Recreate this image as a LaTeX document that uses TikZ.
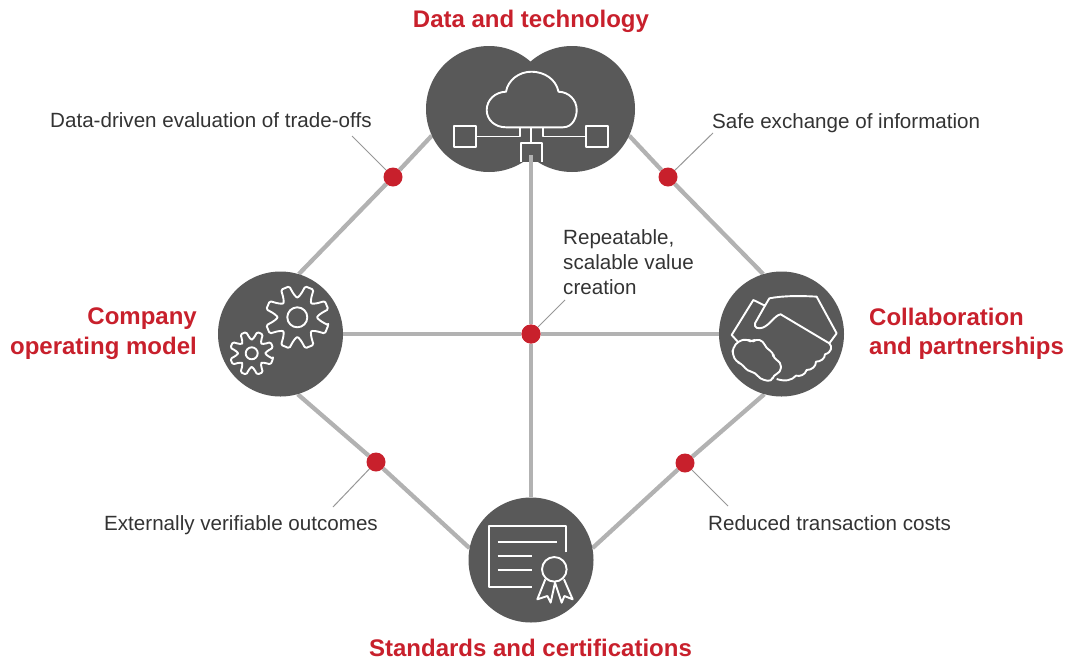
\documentclass[tikz,border=0pt]{standalone}
\usepackage{fontspec}
\setmainfont{Liberation Sans}
\usetikzlibrary{backgrounds}
\definecolor{hub}{RGB}{89,89,89}
\definecolor{spokec}{RGB}{178,178,178}
\definecolor{redc}{RGB}{200,32,44}
\definecolor{txt}{RGB}{51,51,51}
\tikzset{
  hubnode/.style={circle,fill=hub,inner sep=0pt,minimum size=#1},
  dotnode/.style={circle,fill=redc,inner sep=0pt,minimum size=19pt},
  spoke/.style={draw=spokec,line width=4.3pt},
  leader/.style={draw=spokec!85!black,line width=1pt},
  icon/.style={draw=white,line width=1.9pt,line join=round},
  title/.style={text=redc,font=\fontsize{24}{29.3}\selectfont\bfseries,inner sep=0pt,align=left},
  label/.style={text=txt,font=\fontsize{20.6}{25.2}\selectfont,inner sep=0pt,align=left},
}
\newcommand{\gearicon}[5]{%
  \begin{scope}[shift={(#1,#2)}]
    \draw[icon,rounded corners=1.4pt] (22.5-8:#3)
    \foreach \k in {0,...,7}{
      -- ({22.5+45*\k+8}:#3) -- ({22.5+45*\k+13}:#4)
      .. controls ({45+45*\k}:{#4-#3*0.16}) .. ({67.5+45*\k-13}:#4)
      -- ({67.5+45*\k-8}:#3)
    } -- cycle;
    \draw[icon] (0,0) circle[radius=#5];
  \end{scope}}
\begin{document}
\begin{tikzpicture}[x=1pt,y=-1pt]
\useasboundingbox (0,0) rectangle (1068,659);
% hubs
\node[hubnode=126pt] (tl) at (489,109) {};
\node[hubnode=126pt] (tr) at (572,109) {};
\node[hubnode=125pt] (lf) at (280.5,334) {};
\node[hubnode=125pt] (rt) at (781.5,334) {};
\node[hubnode=125pt] (bt) at (531,560) {};
% dots
\node[dotnode] (c) at (531,334) {};
\node[dotnode] (d1) at (393,177) {};
\node[dotnode] (d2) at (668,177) {};
\node[dotnode] (d3) at (376,462) {};
\node[dotnode] (d4) at (685,463) {};
% free ends
\coordinate (vtop) at (531,155);
\coordinate (l1) at (352,136);
\coordinate (l2) at (713,133);
\coordinate (l3) at (333,507);
\coordinate (l4) at (728,506);
\coordinate (l5) at (565,300);
\begin{scope}[on background layer]
  \draw[spoke] (tl.205) -- (d1) -- (lf.73);
  \draw[spoke] (tr.-25) -- (d2) -- (rt.107);
  \draw[spoke] (lf.-74) -- (d3) -- (bt.169);
  \draw[spoke] (rt.-106) -- (d4) -- (bt.11);
  \draw[spoke] (lf) -- (c) -- (rt);
  \draw[leader] (d1) -- (l1);
  \draw[leader] (d2) -- (l2);
  \draw[leader] (d3) -- (l3);
  \draw[leader] (d4) -- (l4);
  \draw[leader] (c) -- (l5);
\end{scope}
% cloud icon
\draw[icon] (506,127.3) -- (563,127.3)
  .. controls (573,127.3) and (576.7,117) .. (576.7,110)
  .. controls (576.7,100) and (569,92) .. (558.5,91.7)
  .. controls (556,79) and (544,71.7) .. (531.5,71.7)
  .. controls (519,71.7) and (508,80) .. (506,91.7)
  .. controls (495,92) and (486.7,100) .. (486.7,110)
  .. controls (486.7,120) and (495,127.3) .. (506,127.3) -- cycle;
\draw[icon] (454,126.3) rectangle (475.7,147.3);
\draw[icon] (586,126.3) rectangle (607.7,147.3);
\draw[icon] (475.7,136.5) -- (520,136.5) -- (520,127.3);
\draw[icon] (586,136.5) -- (543.3,136.5) -- (543.3,127.3);
\draw[icon] (531,127.3) -- (531,143.3);
\draw[icon,fill=hub] (521,162) -- (521,143.3) -- (541.7,143.3) -- (541.7,162);
\draw[spoke] (vtop) -- (c) -- (bt);
\node[dotnode] at (c) {};
% gears
\gearicon{297.3}{317.3}{32}{24}{10}
\gearicon{251.7}{353.3}{22}{16.5}{6}
% handshake
\begin{scope}[shift={(710,265)},x=0.3333pt,y=-0.3333pt]
  \draw[icon] (85,232) -- (65,210) -- (130,105) -- (165,122) -- (178,100)
    .. controls (220,92) and (270,92) .. (320,95) -- (380,205) -- (358,235)
    .. controls (368,245) and (365,262) .. (345,268)
    .. controls (345,282) and (330,290) .. (318,290)
    .. controls (318,305) and (305,315) .. (290,315)
    .. controls (285,330) and (270,335) .. (258,332)
    .. controls (245,347) and (225,350) .. (200,342);
  \draw[icon] (165,122) -- (135,175) .. controls (132,190) and (145,192) .. (158,188)
    .. controls (180,180) and (195,150) .. (212,148) -- (358,235);
  \draw[icon,rounded corners=4pt] (68,250) -- (85,228) -- (112,222) -- (125,232) -- (138,222) -- (160,228)
    -- (168,250) -- (190,262) -- (190,280) -- (213,292) -- (212,322) -- (190,330) -- (185,350)
    -- (150,342) -- (135,322) -- (112,318) -- (95,296) -- (78,290) -- (68,268) -- cycle;
\end{scope}
% certificate
\begin{scope}[shift={(460,490)},x=0.3333pt,y=-0.3333pt]
  \draw[icon] (318,187) -- (318,108) -- (88,108) -- (88,290) -- (217,290);
  \draw[icon] (113,155) -- (292,155);
  \draw[icon] (113,198) -- (217,198);
  \draw[icon] (113,241) -- (217,241);
  \draw[icon] (283,238) circle[radius=12.3pt];
  \draw[icon] (256,268) -- (232,328) -- (262,318) -- (272,338) -- (285,278) -- (305,338) -- (313,318) -- (338,328) -- (312,268);
\end{scope}
% titles
\node[title,anchor=base,align=center] (t1) at (531,27) {Data and technology};
\node[title,anchor=base,align=center] (t2) at (530.5,656.5) {Standards and certifications};
\node[title,anchor=north east,align=right] (t3) at (197,308) {Company\\operating model};
\node[title,anchor=north west] (t4) at (869,308) {Collaboration\\and partnerships};
% labels
\node[label,anchor=base west] (a1) at (50,127) {Data-driven evaluation of trade-offs};
\node[label,anchor=base west] (a2) at (712,128) {Safe exchange of information};
\node[label,anchor=base west] (a3) at (104,530) {Externally verifiable outcomes};
\node[label,anchor=base west] (a4) at (708,530) {Reduced transaction costs};
\node[label,anchor=north west] (a5) at (563,229) {Repeatable,\\scalable value\\creation};
\end{tikzpicture}
\end{document}
